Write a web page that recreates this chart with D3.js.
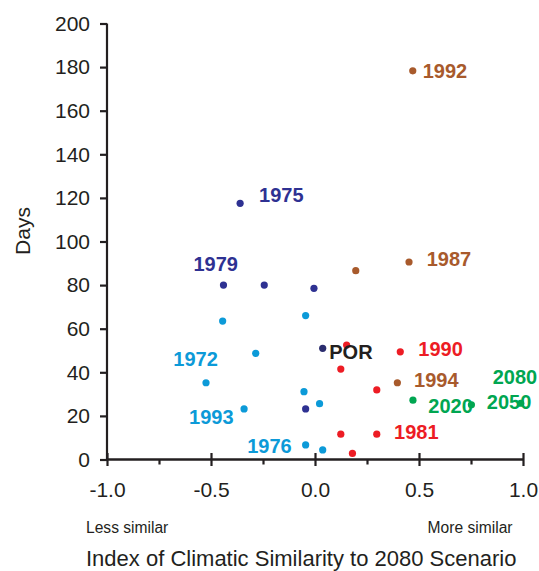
<!DOCTYPE html>
<html><head><meta charset="utf-8">
<script src="https://cdn.jsdelivr.net/npm/d3@7"></script>
<style>
html,body{margin:0;padding:0;background:#fff;}
svg{display:block;font-family:"Liberation Sans",Arial,sans-serif;}
</style></head>
<body>
<svg id="chart" width="539" height="571"></svg>
<script>
// ---- data ----
const xTicks = [-1.0, -0.5, 0.0, 0.5, 1.0];
const xMinorTicks = [-0.75, -0.25, 0.25, 0.75];
const yTicks = [0, 20, 40, 60, 80, 100, 120, 140, 160, 180, 200];

const navyX = [-0.36, -0.44, -0.244, -0.005, -0.045];
const navyY = [117.5, 80.0, 80.0, 78.5, 23.2];
const porX = [0.037];
const porY = [51.0];
const lightBlueX = [-0.444, -0.045, -0.285, -0.524, -0.053, 0.022, -0.341, -0.045, 0.037];
const lightBlueY = [63.5, 66.0, 48.7, 35.2, 31.1, 25.6, 23.2, 6.7, 4.4];
const redX = [0.152, 0.124, 0.41, 0.297, 0.124, 0.297, 0.18];
const redY = [52.5, 41.5, 49.4, 31.9, 11.6, 11.6, 2.8];
const brownX = [0.47, 0.196, 0.452, 0.396];
const brownY = [178.3, 86.6, 90.6, 35.2];
const greenX = [0.471, 0.752, 0.989];
const greenY = [27.2, 25.1, 25.8];

// labels: series, point index, text
const labelSeries = ["navy","navy","brown","brown","red","brown","green","green","green","red","por","lightBlue","lightBlue","lightBlue"];
const labelIndex  = [0, 1, 0, 2, 2, 3, 0, 1, 2, 5, 0, 3, 6, 7];
const labelText   = ["1975","1979","1992","1987","1990","1994","2020","2050","2080","1981","POR","1972","1993","1976"];

const xTitle = "Index of Climatic Similarity to 2080 Scenario";
const yTitle = "Days";
const lessText = "Less similar";
const moreText = "More similar";

// ---- styles / layout ----
const colors = {navy:"#2e3192", por:"#2b2d6e", lightBlue:"#0c9ad8", red:"#ed1c24", brown:"#a85a2c", green:"#00a651"};
const labelColors = {navy:"#2e3192", por:"#231f20", lightBlue:"#0c9ad8", red:"#ed1c24", brown:"#a85a2c", green:"#00a651"};
const labelOffsets = [[19,-1.6],[-30,-14.5],[10,7],[17.7,4],[18,4.3],[16.7,4],[15.3,12.4],[15.4,4.6],[-28,-19],[17.3,5],[6.6,10.7],[-32.7,-16.7],[-55,15.3],[-58.4,7.7]];

const series = {
  navy: d3.zip(navyX, navyY),
  por: d3.zip(porX, porY),
  lightBlue: d3.zip(lightBlueX, lightBlueY),
  red: d3.zip(redX, redY),
  brown: d3.zip(brownX, brownY),
  green: d3.zip(greenX, greenY)
};

const svg = d3.select("#chart");
const x = d3.scaleLinear().domain([-1, 1]).range([107, 523]);
const y = d3.scaleLinear().domain([0, 200]).range([459.5, 23.5]);
const axisColor = "#231f20";

// y axis
const gy = svg.append("g").attr("transform", `translate(${x(-1)},0)`)
  .call(d3.axisLeft(y).tickValues(yTicks).tickSize(7).tickPadding(10).tickFormat(d3.format("d")));
gy.select(".domain").attr("stroke", axisColor).attr("stroke-width", 2.2).attr("d", `M0,${y(200)}V${y(0)}`);
gy.selectAll(".tick line").attr("stroke", axisColor).attr("stroke-width", 2.2);
gy.selectAll(".tick text").attr("fill", "#231f20").style("font-size", "21px").style("font-family", '"Liberation Sans",Arial,sans-serif');

// x axis minor
const gxm = svg.append("g").attr("transform", `translate(0,${y(0)})`)
  .call(d3.axisBottom(x).tickValues(xMinorTicks).tickSize(5).tickFormat(""));
gxm.select(".domain").remove();
gxm.selectAll(".tick line").attr("stroke", axisColor).attr("stroke-width", 2.2);

// x axis major
const gx = svg.append("g").attr("transform", `translate(0,${y(0)})`)
  .call(d3.axisBottom(x).tickValues(xTicks).tickSize(6.5).tickFormat(d3.format(".1f")));
gx.select(".domain").attr("stroke", axisColor).attr("stroke-width", 2.4).attr("d", `M${x(-1)},0H${x(1)}`);
gx.selectAll(".tick line").attr("stroke", axisColor).attr("stroke-width", 2.2).attr("y1", -6.5).attr("y2", 6.5);
gx.selectAll(".tick text").attr("fill", "#231f20").attr("y", 37.5).attr("dy", null)
  .style("font-size", "21px").style("font-family", '"Liberation Sans",Arial,sans-serif')
  .text(d => d3.format(".1f")(d).replace("−", "-"));

// points
Object.keys(series).forEach(k => {
  svg.append("g").selectAll("circle").data(series[k]).join("circle")
    .attr("cx", d => x(d[0])).attr("cy", d => y(d[1])).attr("r", 3.6)
    .attr("fill", colors[k]);
});

// labels
labelText.forEach((t, i) => {
  const s = labelSeries[i], p = series[s][labelIndex[i]];
  svg.append("text")
    .attr("x", x(p[0]) + labelOffsets[i][0])
    .attr("y", y(p[1]) + labelOffsets[i][1])
    .attr("fill", labelColors[s])
    .style("font-size", "20px").style("font-weight", "bold")
    .text(t);
});

// titles
svg.append("text").attr("transform", "translate(30,231) rotate(-90)")
  .attr("text-anchor", "middle").attr("fill", "#231f20").style("font-size", "21px").text(yTitle);
svg.append("text").attr("x", 86).attr("y", 533).attr("fill", "#231f20").style("font-size", "15.6px").text(lessText);
svg.append("text").attr("x", 512.5).attr("y", 533).attr("text-anchor", "end").attr("fill", "#231f20").style("font-size", "15.6px").text(moreText);
svg.append("text").attr("x", 86).attr("y", 566).attr("fill", "#231f20").style("font-size", "22px").text(xTitle);
</script>
</body></html>
